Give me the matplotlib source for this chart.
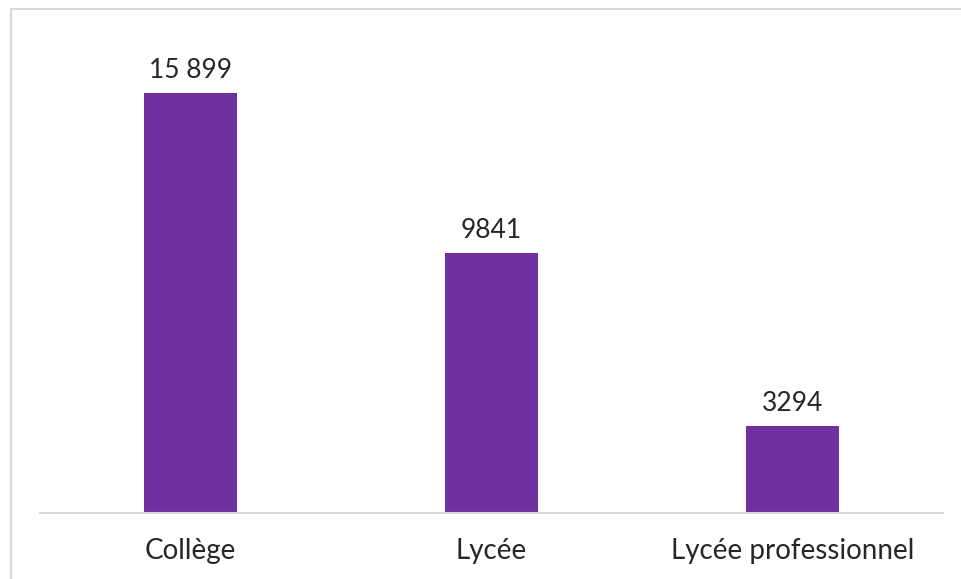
import matplotlib
matplotlib.use("Agg")
import matplotlib.pyplot as plt
from matplotlib.lines import Line2D

categories = ["Collège", "Lycée", "Lycée professionnel"]
values = [15899, 9841, 3294]
value_labels = ["15 899", "9841", "3294"]

purple = '#7030A0'
gray = '#d9d9d9'

plt.rcParams['font.family'] = ['Lato', 'DejaVu Sans']

fig = plt.figure(figsize=(9.61, 5.79), dpi=100)
ax = fig.add_axes([40/961, 66/579, 903/961, 505/579])

bars = ax.bar(range(len(categories)), values, width=0.31, color=purple)
ax.set_xlim(-0.5, 2.5)
ax.set_ylim(0, 19114)

for bar, lab in zip(bars, value_labels):
    ax.annotate(lab, (bar.get_x() + bar.get_width()/2, bar.get_height()),
                xytext=(0, 7), textcoords='offset points',
                ha='center', va='bottom', fontsize=19, color='#262626')

for s in ['top', 'right', 'left']:
    ax.spines[s].set_visible(False)
ax.spines['bottom'].set_color(gray)
ax.spines['bottom'].set_linewidth(1.5)
ax.set_yticks([])
ax.set_xticks(range(len(categories)))
ax.set_xticklabels(categories, fontsize=20, color='#262626')
ax.tick_params(axis='x', length=0, pad=18)

# outer frame (left + top visible)
fig.add_artist(Line2D([10.5/961, 10.5/961], [0, 1 - 8.5/579], color=gray, lw=1.5,
                      transform=fig.transFigure))
fig.add_artist(Line2D([10.5/961, 1], [1 - 8.5/579, 1 - 8.5/579], color=gray, lw=1.5,
                      transform=fig.transFigure))

fig.savefig("out.png", dpi=100)
